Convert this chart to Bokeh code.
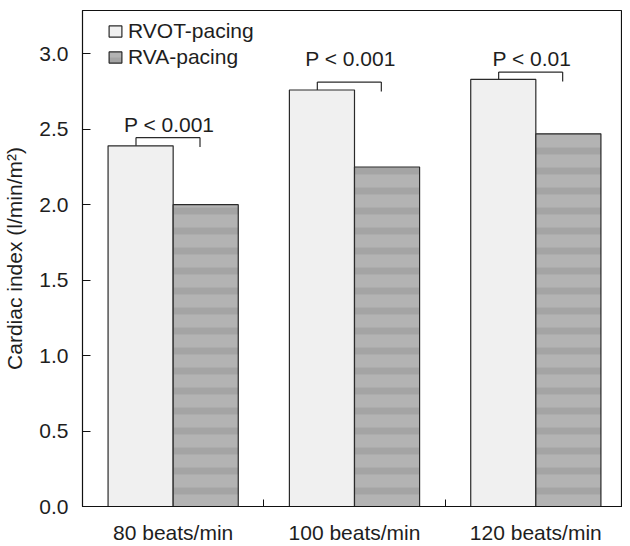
from bokeh.plotting import figure
from bokeh.models import (ColumnDataSource, FixedTicker, Range1d,
                          Legend, LegendItem)
from bokeh.core.properties import value
from bokeh.embed import file_html
from bokeh.resources import INLINE

# ---- data ----
groups = ["80 beats/min", "100 beats/min", "120 beats/min"]
rvot = [2.39, 2.76, 2.83]
rva = [2.00, 2.25, 2.47]
p_labels = ["P < 0.001", "P < 0.001", "P < 0.01"]
bracket_top = [2.445, 2.813, 2.879]
p_text_y = [2.53, 2.967, 2.967]
y_ticks = [0.0, 0.5, 1.0, 1.5, 2.0, 2.5, 3.0]

FONT = "Liberation Sans"
FS = "21px"
TXT = "#1e1e1e"

centers = [i + 0.5 for i in range(len(groups))]
bw = 0.359

p = figure(width=622, height=546, output_backend="svg", toolbar_location=None,
           x_range=Range1d(0, 2.978), y_range=Range1d(0, 3.287),
           min_border_left=74, min_border_right=0, min_border_top=10,
           min_border_bottom=39)
p.outline_line_color = "#111111"
p.outline_line_width = 1.2
p.grid.visible = False
p.background_fill_color = "white"
p.border_fill_color = "white"

src1 = ColumnDataSource(dict(x=[c - bw / 2 for c in centers], top=rvot))
src2 = ColumnDataSource(dict(x=[c + bw / 2 for c in centers], top=rva))
r1 = p.vbar(x="x", top="top", width=bw, source=src1, fill_color="#f0f0f0",
            line_color="#2a2a2a", line_width=1.2)
r2 = p.vbar(x="x", top="top", width=bw, source=src2, fill_color="#b3b3b3",
            line_color="#2a2a2a", line_width=1.2,
            hatch_pattern="horizontal_line", hatch_color="#a4a4a4",
            hatch_scale=20, hatch_weight=7)

# brackets
lx = [c - 0.205 for c in centers]
rx = [c + 0.148 for c in centers]
p.segment(x0=lx, y0=rvot, x1=lx, y1=bracket_top, line_color="#2a2a2a", line_width=1.2)
p.segment(x0=lx, y0=bracket_top, x1=rx, y1=bracket_top, line_color="#2a2a2a", line_width=1.2)
p.segment(x0=rx, y0=bracket_top, x1=rx, y1=[b - 0.062 for b in bracket_top],
          line_color="#2a2a2a", line_width=1.2)
p.text(x=[c - 0.022 for c in centers], y=p_text_y, text=p_labels,
       text_font=value(FONT), text_font_size=FS, text_color=TXT,
       text_align="center", text_baseline="middle")

# y axis
ya = p.yaxis[0]
ya.ticker = FixedTicker(ticks=y_ticks)
ya.major_label_overrides = {t: f"{t:.1f}" for t in y_ticks}
ya.major_tick_in = 8
ya.major_tick_out = 0
ya.minor_tick_line_color = None
ya.major_label_standoff = 14
ya.major_label_text_font = FONT
ya.major_label_text_font_size = FS
ya.major_label_text_color = TXT
ya.axis_label = "Cardiac index (l/min/m²)"
ya.axis_label_text_font = FONT
ya.axis_label_text_font_size = FS
ya.axis_label_text_font_style = "normal"
ya.axis_label_text_color = TXT
ya.axis_label_standoff = 10
ya.axis_line_color = "#111111"
ya.major_tick_line_color = "#111111"

# x axis
xa = p.xaxis[0]
xa.ticker = FixedTicker(ticks=centers, minor_ticks=[1, 2])
xa.major_label_overrides = {c: g for c, g in zip(centers, groups)}
xa.major_tick_line_color = None
xa.major_tick_in = 0
xa.major_tick_out = 0
xa.minor_tick_in = 7
xa.minor_tick_out = 0
xa.minor_tick_line_color = "#111111"
xa.major_label_standoff = 14
xa.major_label_text_font = FONT
xa.major_label_text_font_size = FS
xa.major_label_text_color = TXT
xa.axis_line_color = "#111111"

legend = Legend(items=[LegendItem(label="RVOT-pacing", renderers=[r1]),
                       LegendItem(label="RVA-pacing", renderers=[r2])],
                location=(25, 437), glyph_width=16, glyph_height=14,
                label_standoff=5, spacing=2, padding=0, margin=0,
                border_line_color=None, background_fill_alpha=0,
                label_text_font=FONT, label_text_font_size=FS,
                label_text_color=TXT, label_height=20)
p.add_layout(legend)

open("out.html", "w").write(file_html(p, INLINE))
